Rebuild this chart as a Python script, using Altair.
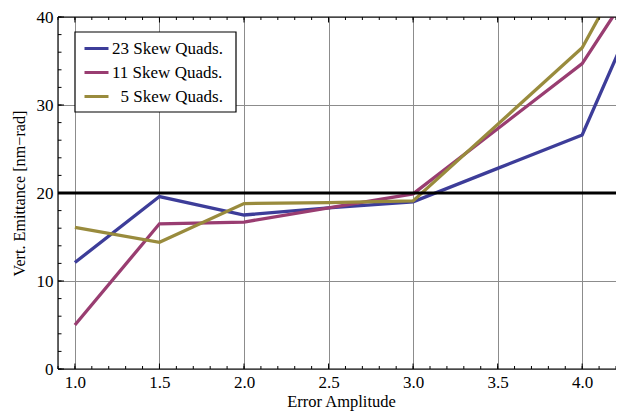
import altair as alt
import pandas as pd

x_vals = [1.0, 1.5, 2.0, 2.5, 3.0, 3.5, 4.0, 4.5]
quads23 = [12.1, 19.6, 17.5, 18.3, 19.0, 22.8, 26.6, 48.5]
quads11 = [5.0, 16.5, 16.7, 18.3, 19.9, 27.3, 34.7, 49.4]
quads5 = [16.1, 14.4, 18.8, 18.9, 19.1, 27.8, 36.5, 54.0]
series_names = ["23 Skew Quads.", "11 Skew Quads.", "\u200b\u20075 Skew Quads."]
series_colors = ["#3D3D99", "#993D71", "#998B3D"]
threshold = [20]

x_major = [1.0, 1.5, 2.0, 2.5, 3.0, 3.5, 4.0]
x_minor = [round(0.9 + 0.1 * i, 2) for i in range(0, 34)]
y_major = [0, 10, 20, 30, 40]
y_minor = list(range(0, 41, 2))

rows = []
for name, vals in zip(series_names, [quads23, quads11, quads5]):
    for xv, yv in zip(x_vals, vals):
        rows.append({"x": xv, "y": yv, "series": name})
df = pd.DataFrame(rows)

W, H = 558, 352
FONT = "Liberation Serif"

xscale = alt.Scale(domain=[0.9, 4.2], nice=False, zero=False)
yscale = alt.Scale(domain=[0, 40], nice=False)

lines = alt.Chart(df).mark_line(strokeWidth=3.3, clip=True).encode(
    x=alt.X("x:Q", scale=xscale,
            axis=alt.Axis(title="Error Amplitude", values=x_major, format=".1f",
                          ticks=False, grid=True, gridColor="#8c8c8c", gridWidth=1,
                          labelFont=FONT, labelFontSize=17, labelPadding=5,
                          titleFont=FONT, titleFontSize=16.5, titleFontWeight="normal",
                          titlePadding=3, titleX=283, titleAlign="center",
                          domain=False, labelColor="black", titleColor="black")),
    y=alt.Y("y:Q", scale=yscale,
            axis=alt.Axis(title="Vert. Emittance [nm\u2212rad]", values=y_major,
                          ticks=False, grid=True, gridColor="#8c8c8c", gridWidth=1,
                          labelFont=FONT, labelFontSize=17, labelPadding=5,
                          titleFont=FONT, titleFontSize=16.2, titleFontWeight="normal",
                          titlePadding=9, domain=False, labelColor="black", titleColor="black")),
    color=alt.Color("series:N",
                    scale=alt.Scale(domain=series_names, range=series_colors),
                    legend=alt.Legend(title=None, orient="none", legendX=25, legendY=18,
                                      symbolType="stroke", symbolSize=576, symbolStrokeWidth=3,
                                      labelFont=FONT, labelFontSize=17, labelColor="black",
                                      padding=0, rowPadding=2, labelOffset=2,
                                      symbolOffset=0)),
    order=alt.Order("x:Q"),
)

legend_box = alt.Chart(pd.DataFrame({"a": [0]})).mark_rect(
    fill="white", stroke="black", strokeWidth=1.2).encode(
    x=alt.value(17), x2=alt.value(178), y=alt.value(15), y2=alt.value(95))

thr = alt.Chart(pd.DataFrame({"y": threshold})).mark_rule(color="black", strokeWidth=3).encode(
    y=alt.Y("y:Q", scale=yscale)
)

def xticks(vals, length, top):
    d = pd.DataFrame({"x": vals})
    if top:
        enc = dict(y=alt.value(0), y2=alt.value(length))
    else:
        enc = dict(y=alt.value(H), y2=alt.value(H - length))
    return alt.Chart(d).mark_rule(color="black", strokeWidth=1).encode(
        x=alt.X("x:Q", scale=xscale), **enc)

def yticks(vals, length):
    d = pd.DataFrame({"y": vals})
    return alt.Chart(d).mark_rule(color="black", strokeWidth=1).encode(
        y=alt.Y("y:Q", scale=yscale), x=alt.value(0), x2=alt.value(length))

frame_left = alt.Chart(pd.DataFrame({"a": [0]})).mark_rule(color="black", strokeWidth=1.2).encode(
    x=alt.value(0), y=alt.value(0), y2=alt.value(H))
frame_bottom = alt.Chart(pd.DataFrame({"a": [0]})).mark_rule(color="black", strokeWidth=1.2).encode(
    x=alt.value(0), x2=alt.value(W), y=alt.value(H))
frame_top = alt.Chart(pd.DataFrame({"a": [0]})).mark_rule(color="black", strokeWidth=1.2).encode(
    x=alt.value(0), x2=alt.value(W), y=alt.value(0))

chart = alt.layer(
    lines,
    thr,
    legend_box,
    xticks(x_minor, 3, False), xticks(x_major, 5.5, False),
    xticks(x_minor, 3, True), xticks(x_major, 5.5, True),
    yticks(y_minor, 3.5), yticks(y_major, 6),
    frame_left, frame_bottom, frame_top,
).properties(
    width=W, height=H,
    autosize=alt.AutoSizeParams(type="none"),
    padding={"left": 50, "top": 9, "right": 0, "bottom": 42},
).configure_view(stroke=None).configure(background="white")

chart.save("out.html", embed_options={"renderer": "svg", "actions": False})
